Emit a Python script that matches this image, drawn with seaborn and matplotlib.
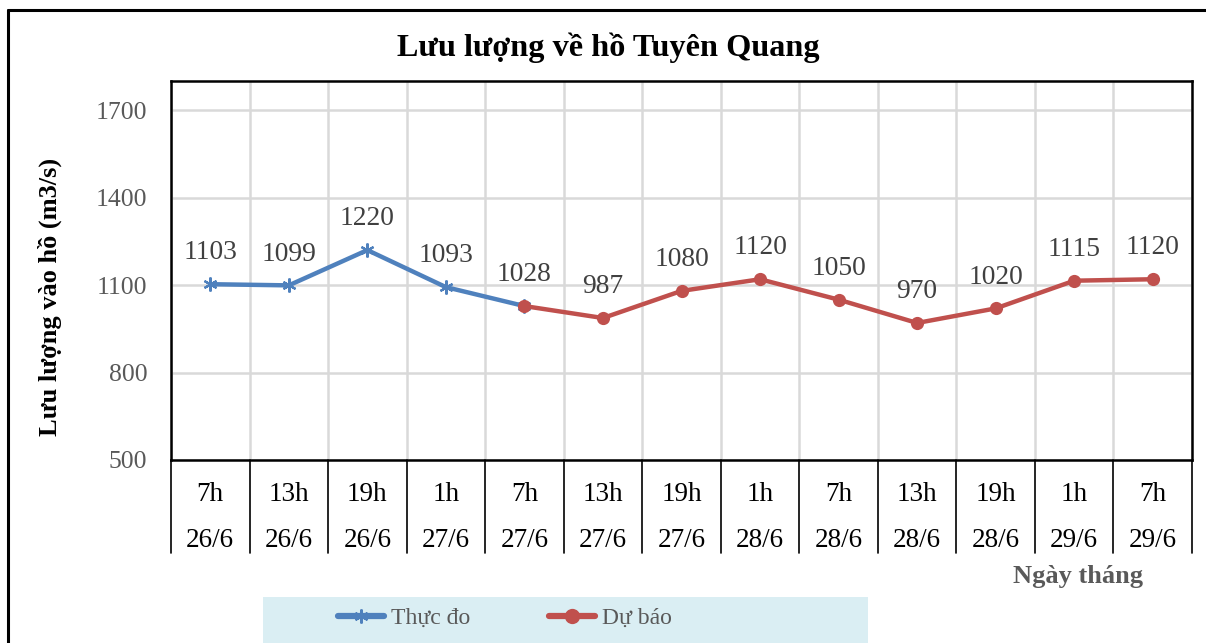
import numpy as np
import pandas as pd
import matplotlib
matplotlib.use("Agg")
import matplotlib.pyplot as plt
import seaborn as sns
from matplotlib.lines import Line2D
from matplotlib.patches import Rectangle
import matplotlib.transforms as mtransforms

# ---- data ----
hours = ["7h", "13h", "19h", "1h", "7h", "13h", "19h", "1h", "7h", "13h", "19h", "1h", "7h"]
dates = ["26/6", "26/6", "26/6", "27/6", "27/6", "27/6", "27/6", "28/6", "28/6", "28/6", "28/6", "29/6", "29/6"]
observed = [1103, 1099, 1220, 1093, 1028]                          # Thực đo (first 5 slots)
forecast = [1028, 987, 1080, 1120, 1050, 970, 1020, 1115, 1120]    # Dự báo (slots 5..13)
yticks = [500, 800, 1100, 1400, 1700]

sns.set_theme(style="white")
plt.rcParams["font.family"] = ["Liberation Serif", "DejaVu Serif"]

W, H = 1206, 643
fig = plt.figure(figsize=(W / 100, H / 100), dpi=100)
ax = fig.add_axes([171 / W, 1 - 460 / H, (1192 - 171) / W, (460 - 81) / H])

n = len(hours)
obs_x = list(range(len(observed)))
fc_start = n - len(forecast)
fc_x = list(range(fc_start, n))
df_obs = pd.DataFrame({"x": obs_x, "v": observed})
df_fc = pd.DataFrame({"x": fc_x, "v": forecast})

blue = "#4F81BD"
red = "#C0504D"

sns.lineplot(data=df_obs, x="x", y="v", ax=ax, color=blue, linewidth=3.2,
             marker=(6, 2, 0), markersize=10, markeredgewidth=1.6,
             markeredgecolor=blue, zorder=3, label="Thực đo", legend=False)
sns.lineplot(data=df_fc, x="x", y="v", ax=ax, color=red, linewidth=3.2,
             marker="o", markersize=9.5, markeredgewidth=0,
             zorder=4, label="Dự báo", legend=False)

# data labels
lab_color = "#404040"
for xs, vs in ((obs_x[:-1], observed[:-1]), (fc_x, forecast)):
    for x, v in zip(xs, vs):
        ax.annotate(str(v), (x, v), xytext=(0, 22.5), textcoords="offset points",
                    ha="center", va="center", fontsize=19.8, color=lab_color)

ax.set_xlim(-0.5, n - 0.5)
ax.set_ylim(500, 1800)
ax.set_yticks(yticks)
ax.set_yticklabels([str(t) for t in yticks], fontsize=18.5, color="#595959")
ax.tick_params(axis="y", length=0, pad=17)

ax.set_xticks(range(n))
ax.set_xticklabels([f"{h}\n{d}" for h, d in zip(hours, dates)], fontsize=19.5, color="black")
for lbl in ax.get_xticklabels():
    lbl.set_linespacing(2.1)
ax.tick_params(axis="x", length=0, pad=16)

ax.set_xticks(np.arange(-0.5, n, 1.0), minor=True)
ax.grid(False)
ax.grid(True, axis="y", which="major", color="#D9D9D9", linewidth=1.8, zorder=0)
ax.grid(True, axis="x", which="minor", color="#D9D9D9", linewidth=1.8, zorder=0)
ax.tick_params(axis="x", which="minor", length=0)
ax.set_axisbelow(True)
for s in ax.spines.values():
    s.set_color("black")
    s.set_linewidth(1.8)
    s.set_visible(True)
ax.set_xlabel("")
ax.set_ylabel("")

# category separators below axis
trans = mtransforms.blended_transform_factory(ax.transData, ax.transAxes)
sep_len = (553 - 460) / (460 - 81)
for b in np.arange(-0.5, n, 1.0):
    ax.add_line(Line2D([b, b], [0, -sep_len], transform=trans, color="black",
                       linewidth=1.2, clip_on=False))

# texts
fig.text(608 / W, 1 - 48 / H, "Lưu lượng về hồ Tuyên Quang", ha="center", va="center",
         fontsize=23.2, fontweight="bold", color="black")
fig.text(50 / W, 1 - 297 / H, "Lưu lượng vào hồ (m3/s)", ha="center", va="center",
         rotation=90, fontsize=19, fontweight="bold", color="black")
fig.text(1078 / W, 1 - 577 / H, "Ngày tháng", ha="center", va="center",
         fontsize=19, fontweight="bold", color="#595959")

# outer frame
fig.add_artist(Line2D([8 / W, 8 / W], [1 - 10 / H, 0], transform=fig.transFigure,
                      color="black", linewidth=2.2))
fig.add_artist(Line2D([8 / W, 1], [1 - 10 / H, 1 - 10 / H], transform=fig.transFigure,
                      color="black", linewidth=2.2))

# legend background
fig.add_artist(Rectangle((263 / W, 0), (868 - 263) / W, (643 - 597) / H,
                         transform=fig.transFigure, facecolor="#DAEEF3",
                         edgecolor="none", zorder=0))
handles = [Line2D([], [], color=blue, linewidth=4.5, marker=(6, 2, 0), markersize=10,
                  markeredgewidth=1.6, markeredgecolor=blue, solid_capstyle="round"),
           Line2D([], [], color=red, linewidth=4.5, marker="o", markersize=11,
                  markeredgewidth=0, solid_capstyle="round")]
leg = fig.legend(handles, ["Thực đo", "Dự báo"], loc="center", ncol=2,
                 bbox_to_anchor=(505 / W, 1 - 618 / H), frameon=False,
                 fontsize=17, handlelength=1.95, handletextpad=0.3,
                 columnspacing=3.3)
for t in leg.get_texts():
    t.set_color("#595959")

fig.savefig("out.png", dpi=100)
